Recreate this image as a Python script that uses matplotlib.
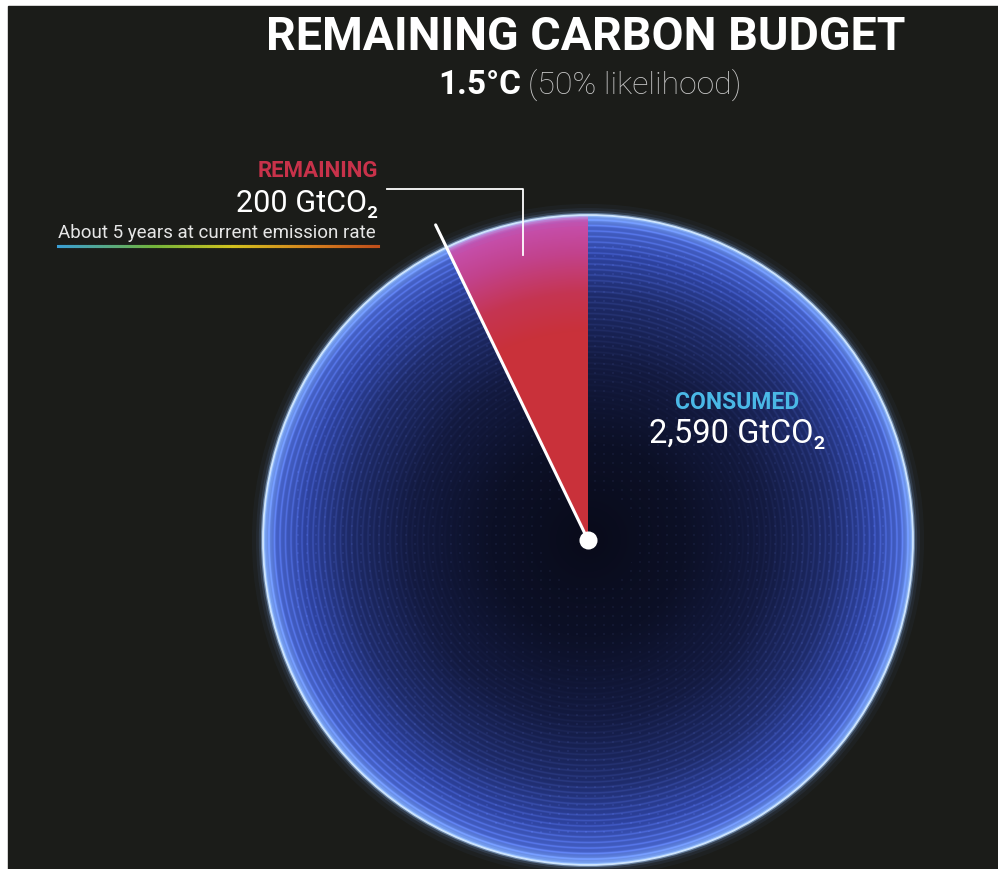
import numpy as np
import matplotlib.pyplot as plt
from matplotlib.patches import Rectangle, Circle
from matplotlib.collections import LineCollection
from matplotlib.colors import to_rgb

# 1.5°C budget (50% likelihood), GtCO2
labels = ['REMAINING', 'CONSUMED']
budget = [200, 2590]
years_left = 5

W, H = 998, 869
bg = '#1b1c19'
plt.rcParams['font.family'] = ['Roboto', 'DejaVu Sans']

fig = plt.figure(figsize=(W / 100, H / 100), dpi=100, facecolor='white')
ax = fig.add_axes([0, 0, 1, 1])

# pie in pixel-like coordinates, y pointing up
cx, cy, R = 588, H - 540, 325
wedges, _ = ax.pie(budget, startangle=90, counterclock=True, center=(cx, cy),
                   radius=R, wedgeprops=dict(linewidth=0, facecolor='none'))
ax.set_xlim(0, W)
ax.set_ylim(0, H)
ax.set_aspect('equal')
ax.axis('off')
ax.add_patch(Rectangle((8, 0), W - 8, H - 6, color=bg, zorder=0))


def radial_colors(r, stops, cols):
    rgb = np.array([to_rgb(c) for c in cols])
    return np.stack([np.interp(r, stops, rgb[:, k]) for k in range(3)], axis=-1)


pad = 30
xs = np.arange(cx - R - pad, cx + R + pad)
ys = np.arange(cy - R - pad, cy + R + pad)
xx, yy = np.meshgrid(xs, ys)
d = np.hypot(xx - cx, yy - cy)
r = d / R
extent = (xs[0], xs[-1] + 1, ys[0], ys[-1] + 1)

# consumed part: dark navy core, brighter rings towards the rim
blue = radial_colors(r, [0, 0.3, 0.55, 0.75, 0.88, 0.96, 1.0],
                     ['#090b1a', '#0c1026', '#131a40', '#1e2b6a', '#2e43a0', '#4561c6', '#7aa2f0'])
ring = (0.5 + 0.5 * np.cos(2 * np.pi * (R - d) / 5.5)) ** 3
amp = np.clip((r - 0.3) / 0.7, 0, 1) ** 1.6
blue = blue + amp[..., None] * ring[..., None] * 0.18 * np.array(to_rgb('#7f9cff'))
dots = ((xx % 9) < 1.5) & ((yy % 9) < 1.5) & (r > 0.15) & (r < 0.92)
blue = blue + dots[..., None] * 0.05 * np.array(to_rgb('#8fa6ff'))
blue = np.clip(blue, 0, 1)
im = ax.imshow(blue, extent=extent, origin='lower', interpolation='bilinear', zorder=1)
im.set_clip_path(wedges[1])

# remaining part: red turning magenta near the rim
red = radial_colors(r, [0, 0.64, 0.76, 0.88, 0.98, 1.0],
                    ['#c9313a', '#c9313a', '#c53552', '#c2428c', '#c650ae', '#d890dc'])
im2 = ax.imshow(red, extent=extent, origin='lower', interpolation='bilinear', zorder=1)
im2.set_clip_path(wedges[0])

# glowing rim
for lw, a, c in [(16, 0.04, '#6f9cff'), (10, 0.07, '#7aa8ff'), (6, 0.14, '#8cb8ff'),
                 (3, 0.45, '#a6ceff'), (1.3, 0.95, '#d2e8ff')]:
    ax.add_patch(Circle((cx, cy), R, fill=False, ec=c, lw=lw, alpha=a, zorder=2))

# leader along the wedge edge, past the rim
t2 = np.deg2rad(wedges[0].theta2)
ax.plot([cx, cx + 1.077 * R * np.cos(t2)], [cy, cy + 1.077 * R * np.sin(t2)],
        color='white', lw=2.2, solid_capstyle='round', zorder=4)
ax.plot(cx, cy, 'o', ms=13, color='white', mec='none', zorder=5)

# callout from the remaining wedge to its label
tm = np.deg2rad((wedges[0].theta1 + wedges[0].theta2) / 2)
axp = cx + 0.9 * R * np.cos(tm)
ayp = cy + 0.9 * R * np.sin(tm)
ax.plot([axp, axp, 387], [ayp, H - 189, H - 189], color='white', lw=1.3, zorder=4)

# titles
ax.text(586, H - 50, 'REMAINING CARBON BUDGET', color='white', fontsize=33.5,
        fontweight='bold', ha='center', va='baseline')
ax.text(521, H - 94, '1.5°C', color='white', fontsize=24, fontweight='bold',
        ha='right', va='baseline')
ax.text(528, H - 94, '(50% likelihood)', color='#c9c9c9', fontsize=23,
        fontweight='light', ha='left', va='baseline')

# remaining label
ax.text(378, H - 177, labels[0], color='#c8324a', fontsize=16, fontweight='bold',
        ha='right', va='baseline')
ax.text(378, H - 212, f'{budget[0]:,} GtCO₂', color='white', fontsize=22,
        ha='right', va='baseline')
ax.text(58, H - 238, f'About {years_left} years at current emission rate', color='#e6e6e6',
        fontsize=13.5, ha='left', va='baseline')

# rainbow underline
ux = np.linspace(58, 378, 200)
seg = np.stack([np.column_stack([ux[:-1], np.full(199, H - 246)]),
                np.column_stack([ux[1:], np.full(199, H - 246)])], axis=1)
line_cols = radial_colors(np.linspace(0, 1, 199), [0, 0.3, 0.55, 0.8, 1.0],
                          ['#3a9fd6', '#72b43c', '#d2c21e', '#d6801e', '#c0501a'])
ax.add_collection(LineCollection(seg, colors=line_cols, lw=2.2, capstyle='projecting',
                                 zorder=3))

# consumed label
ax.text(737, H - 409, labels[1], color='#4ab8e6', fontsize=16.5, fontweight='bold',
        ha='center', va='baseline', zorder=6)
ax.text(737, H - 443, f'{budget[1]:,} GtCO₂', color='white', fontsize=23.5,
        ha='center', va='baseline', zorder=6)

fig.savefig('out.png', dpi=100, facecolor='white')
